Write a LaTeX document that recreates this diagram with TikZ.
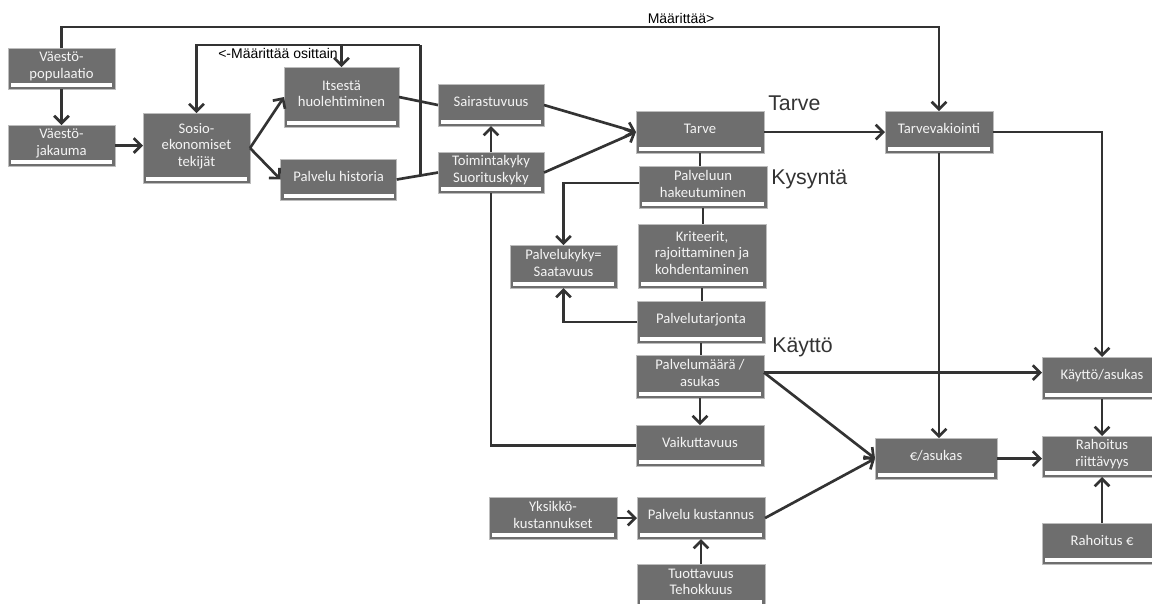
\documentclass[tikz,border=0pt]{standalone}
\usepackage{fontspec}
\setmainfont{Carlito}
\newfontfamily\arialfont{Liberation Sans}
\usetikzlibrary{positioning,calc,arrows.meta}

\definecolor{boxgray}{HTML}{6E6E6E}
\definecolor{boxedge}{HTML}{BDBDBD}
\definecolor{linegray}{HTML}{333333}
\definecolor{boxtext}{HTML}{F4F4F4}

\tikzset{
  block/.style={rectangle, fill=boxgray, draw=boxedge, line width=0.6pt,
    text=boxtext, align=center, font=\fontsize{11}{12.5}\selectfont,
    minimum width=96pt, minimum height=31.5pt, inner sep=1pt, outer sep=0pt,
    text depth=5pt,
    path picture={\fill[white] ([xshift=2.2pt,yshift=1.3pt]path picture bounding box.south west)
      rectangle ([xshift=-2.2pt,yshift=4.8pt]path picture bounding box.south east);}},
  conn/.style={draw=linegray, line width=2pt},
  arr/.style={conn, -{Straight Barb[length=5.5pt,width=11pt]}},
  lbl/.style={font=\arialfont\fontsize{10.5}{12}\selectfont, text=black, inner sep=1.5pt},
  sect/.style={font=\arialfont\fontsize{16}{18}\selectfont, text=linegray, inner sep=0pt},
}

\begin{document}
\begin{tikzpicture}[x=0.75pt, y=-0.75pt]
  \clip (0,0) rectangle (1152,603);

  % Define nodes
  \node[block, minimum width=80.25pt, minimum height=30.75pt] (pop) at (61.5,68.5) {Väestö-\\populaatio};
  \node[block, minimum width=80.25pt, minimum height=30.75pt, below=27pt of pop] (jak) {Väestö-\\jakauma};
  \node[block, minimum width=80.25pt, minimum height=52.5pt, right=21pt of jak, yshift=-1.9pt] (sosio) {Sosio-\\ekonomiset\\tekijät};
  \node[block, minimum width=86.25pt, minimum height=45pt, right=25.5pt of sosio, yshift=38.25pt] (itse) {Itsestä\\huolehtiminen};
  \node[block, minimum width=87pt, minimum height=30.75pt, right=23pt of sosio, yshift=-23.6pt] (hist) {Palvelu historia};

  \node[block, minimum width=79.5pt, right=29.25pt of itse, yshift=-6pt] (sair) {Sairastuvuus};
  \node[block, minimum width=79.5pt, minimum height=30.75pt, below=19.5pt of sair] (toim) {Toimintakyky\\Suorituskyky};

  \node[block, right=69pt of sair, yshift=-20.25pt] (tarve) {Tarve};
  \node[block, minimum width=81pt, right=90.75pt of tarve] (tvak) {Tarvevakiointi};
  \node[block, below=9.75pt of tarve, xshift=2.25pt] (hake) {Palveluun\\hakeutuminen};
  \node[block, minimum height=48pt, below=12pt of hake, xshift=-0.75pt] (krit) {Kriteerit,\\rajoittaminen ja\\kohdentaminen};
  \node[block, minimum width=80.25pt, minimum height=32.25pt, left=15.75pt of krit, yshift=-7.9pt] (saat) {Palvelukyky=\\Saatavuus};
  \node[block, below=9.75pt of krit, xshift=-0.75pt] (tarj) {Palvelutarjonta};
  \node[block, minimum height=32.25pt, below=9pt of tarj, xshift=-0.75pt] (maara) {Palvelumäärä /\\asukas};
  \node[block, minimum height=30.75pt, below=20.25pt of maara] (vaik) {Vaikuttavuus};
  \node[block, below=23.25pt of vaik, xshift=0.75pt] (kust) {Palvelu kustannus};
  \node[block, below=18.75pt of kust] (tuot) {Tuottavuus\\Tehokkuus};
  \node[block, left=15pt of kust] (yks) {Yksikkö-\\kustannukset};

  \node[block, minimum width=91.5pt, minimum height=30.75pt, below=213.75pt of tvak, xshift=-2.25pt] (eur) {€/asukas};
  \node[block, minimum width=90pt, right=208.5pt of maara, yshift=-1.1pt] (kaytto) {Käyttö/asukas};
  \node[block, minimum width=90pt, minimum height=30.75pt, below=27.75pt of kaytto] (riitt) {Rahoitus\\riittävyys};
  \node[block, minimum width=90pt, minimum height=30.75pt, below=34.5pt of riitt] (rahe) {Rahoitus €};

  % Section titles
  \node[sect, anchor=base west] (tTarve) at ([xshift=3pt,yshift=0.75pt]tarve.north east) {Tarve};
  \node[sect, anchor=base west] (tKysynta) at ([xshift=3pt,yshift=2.25pt]hake.east) {Kysyntä};
  \node[sect, anchor=base west] (tKaytto) at ([xshift=6pt,yshift=2.25pt]maara.north east) {Käyttö};

  % Connect the nodes
  \draw[arr] (pop.north) |- node[lbl, pos=0.853, above] {Määrittää>} ([yshift=63pt]tvak.north) -- (tvak.north);
  \draw[arr] (pop) -- (jak);
  \draw[arr] (jak.east) -- (jak.east -| sosio.west);
  \draw[arr] (sosio.east) -- (itse.west);
  \draw[arr] (sosio.east) -- (hist.west);
  \draw[conn] (itse.east) -- (sair.west);
  \draw[conn] (hist.east) -- (toim.west);

  \path (itse.north east) ++(16pt,16.5pt) coordinate (loop);
  \coordinate (hj) at ($(hist.east)!0.58!(toim.west)$);
  \draw[arr] (loop) -| node[lbl, pos=0.318, below] {<-Määrittää osittain} (sosio.north);
  \draw[arr] (loop -| itse.north) -- (itse.north);
  \draw[conn] (loop) -- (loop |- hj);

  \draw[arr] (toim) -- (sair);
  \draw[arr] (sair.east) -- (tarve.west);
  \draw[arr] (toim.east) -- (tarve.west);
  \draw[arr] (tarve) -- (tvak);

  \draw[conn] (tarve.south) -- (tarve.south |- hake.north);
  \draw[conn] (hake.south) -- (hake.south |- krit.north);
  \draw[conn] (krit.south) -- (krit.south |- tarj.north);
  \draw[conn] (tarj.south) -- (tarj.south |- maara.north);
  \draw[arr] ([yshift=3pt]hake.west) -| (saat.north);
  \draw[arr] (tarj.west) -| (saat.south);
  \draw[arr] (maara) -- (vaik);
  \draw[conn] (vaik.west) -| (toim.south);

  \draw[arr] ([yshift=3pt]maara.east) -- ([yshift=3pt]maara.east -| kaytto.west);
  \draw[arr] ([yshift=3pt]maara.east) -- (eur.west);
  \draw[arr] (kust.east) -- (eur.west);
  \draw[arr] (yks) -- (kust);
  \draw[arr] (tuot) -- (kust);

  \draw[arr] (tvak.south) -- (tvak.south |- eur.north);
  \draw[arr] (tvak.east) -| (kaytto.north);
  \draw[arr] (kaytto) -- (riitt);
  \draw[arr] (eur.east) -- (eur.east -| riitt.west);
  \draw[arr] (rahe) -- (riitt);

\end{tikzpicture}
\end{document}
